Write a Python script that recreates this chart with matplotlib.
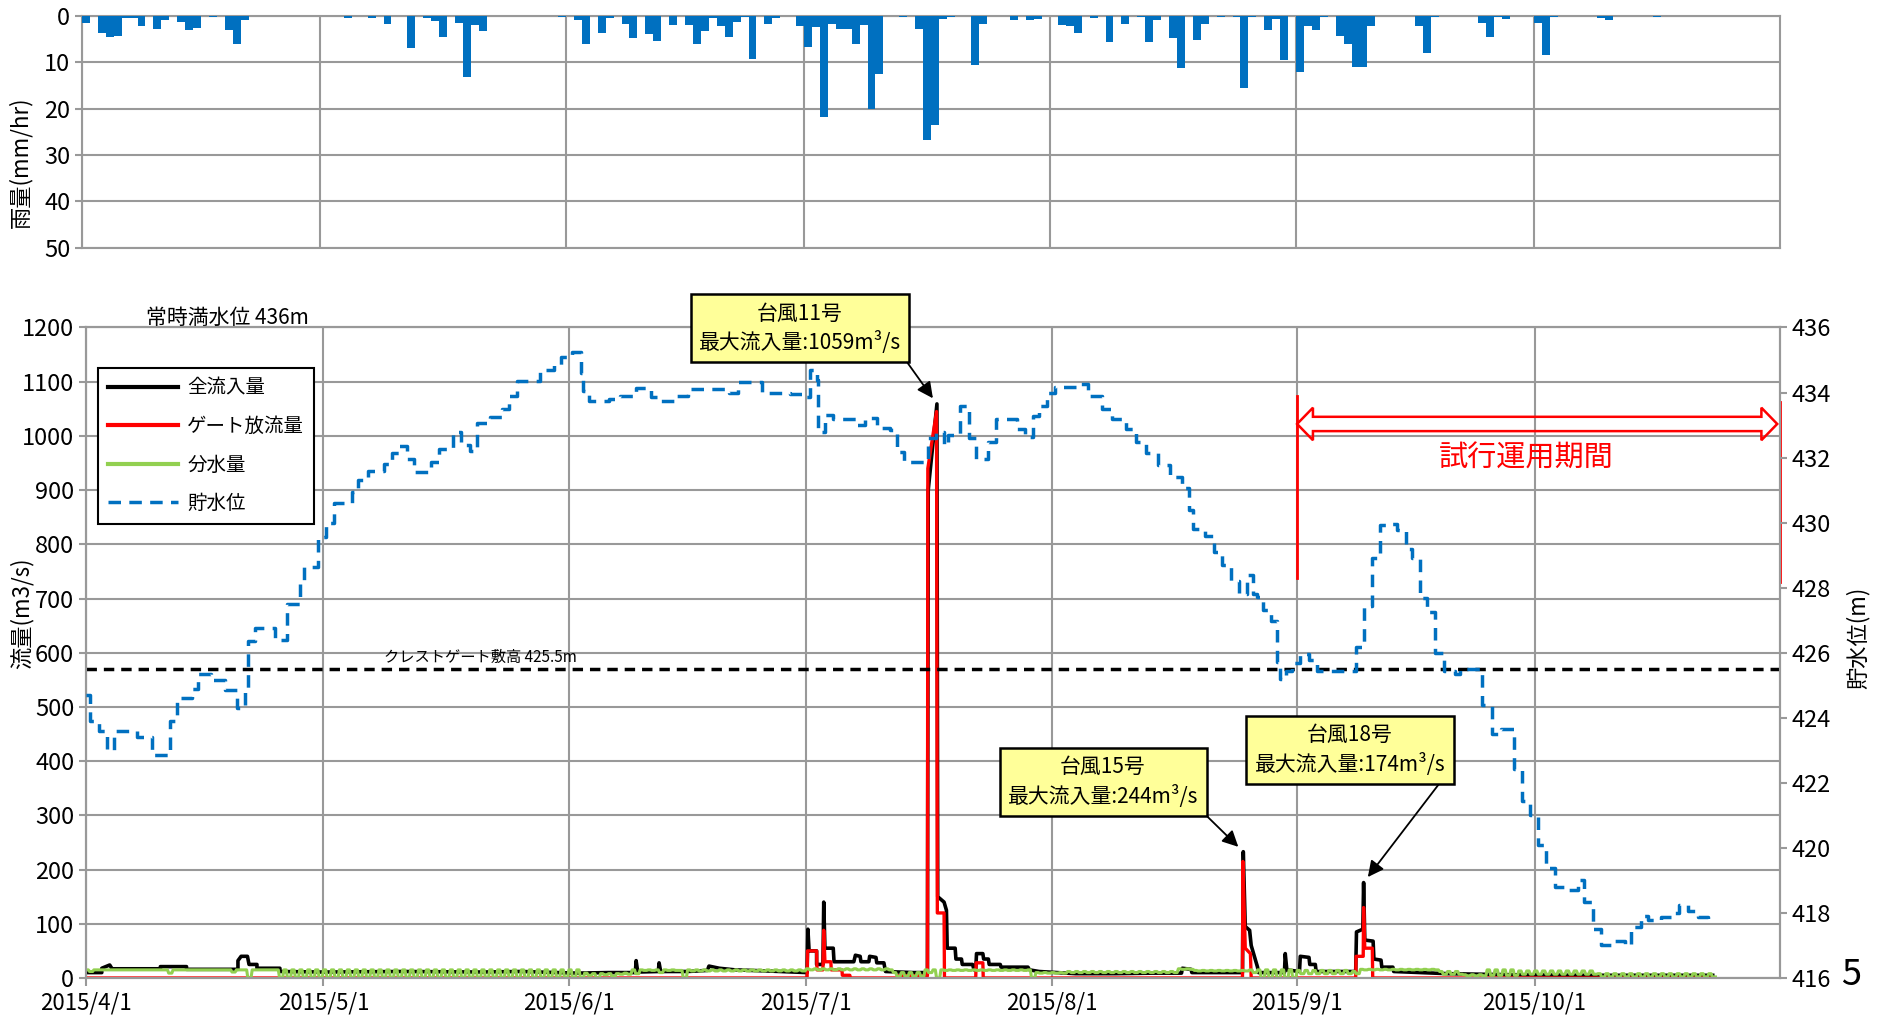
import datetime as dt
import numpy as np
import matplotlib
matplotlib.use("Agg")
import matplotlib.pyplot as plt
import matplotlib.dates as mdates
import matplotlib.patches as mpatches
import matplotlib.transforms as mtransforms
from matplotlib.lines import Line2D

plt.rcParams['font.family'] = ['Liberation Sans Narrow', 'Noto Sans CJK JP', 'DejaVu Sans']

# ---- data (day offsets from 2015/4/1) ----
rain_day = [0, 2, 3, 4, 5, 6, 7, 9, 10, 12, 13, 14, 16, 18, 19, 20, 33, 36, 38, 41,
            43, 44, 45, 47, 48, 49, 50, 60, 62, 63, 65, 66, 68, 69, 71, 72, 74, 76, 77, 78,
            79, 80, 81, 82, 83, 84, 86, 87, 90, 91, 92, 93, 94, 95, 96, 97, 98, 99, 100, 103,
            105, 106, 107, 108, 109, 112, 113, 117, 119, 120, 123, 124, 125, 127, 129, 131, 133, 134, 135, 137,
            138, 140, 141, 143, 145, 146, 147, 149, 150, 151, 153, 154, 155, 156, 158, 159, 160, 161, 162, 168,
            169, 170, 176, 177, 178, 179, 183, 184, 185, 191, 192, 198]
rain_mm = [1.5, 3.7, 4.5, 4.3, 0.5, 0.5, 2.3, 2.8, 1.0, 1.4, 3.0, 2.7, 0.3, 3.0, 6.2, 1.0, 0.5, 0.5, 1.9, 7.0,
           0.5, 1.2, 4.5, 1.6, 13.2, 2.0, 3.2, 0.3, 1.0, 6.1, 3.7, 0.5, 1.7, 4.8, 4.0, 5.5, 2.0, 2.0, 6.1, 3.2,
           0.6, 2.3, 4.6, 1.4, 0.4, 9.3, 1.8, 0.5, 2.2, 6.8, 2.4, 21.8, 1.8, 2.8, 2.8, 6.1, 2.1, 20.1, 12.6, 0.3,
           2.9, 26.7, 23.5, 0.8, 0.3, 10.6, 1.9, 1.0, 0.9, 0.8, 2.1, 2.3, 3.7, 0.6, 5.6, 1.9, 0.3, 5.6, 0.9, 4.8,
           11.3, 5.3, 1.9, 0.4, 0.4, 15.6, 0.4, 3.1, 0.8, 9.6, 12.1, 2.3, 3.1, 0.3, 4.3, 6.0, 11.0, 11.0, 2.3, 2.2,
           8.0, 0.4, 1.6, 4.5, 0.3, 0.7, 1.6, 8.5, 0.4, 0.6, 1.0, 0.2]

# total inflow (m3/s)
inflow_day = [0, 2, 2, 3, 3.3, 9.4, 9.4, 12.7, 12.7,
              19.2, 19.2, 19.6, 20.4, 20.6, 21.6, 21.6, 24.5, 24.5,
              30, 40, 50, 55, 62, 66,
              69.4, 69.5, 69.7, 72.3, 72.4, 72.6,
              76, 78.5, 78.7, 80, 82, 86,
              91.1, 91.2, 91.35, 92.3, 92.3, 93.1, 93.2, 93.35, 94.4, 94.5,
              97, 97.2, 97.8, 97.9, 98.9, 99, 99.8, 99.9, 100.8, 101, 104.5,
              106.3, 106.4, 107.5, 107.6, 108.4, 108.7, 108.8, 109.8, 109.9, 110.6, 110.7, 112, 112.2,
              112.4, 112.5, 113.3, 113.4, 114, 114.1, 115.5, 115.6, 119, 119.2, 120.4,
              125, 130, 135, 138.4, 138.5, 139.6, 139.7,
              146.1, 146.2, 146.45, 147.0, 147.2, 148.0, 148.1,
              151.4, 151.5, 151.7, 153.3, 153.4, 154.5, 154.6, 155.3, 155.4,
              160.4, 160.5, 161.3, 161.4, 161.55, 162.6, 162.7, 163.6, 163.7, 165.1, 165.2,
              172, 180, 190, 205.5]
inflow_cms = [10, 10, 18, 24, 17, 17, 21, 21, 16,
              16, 32, 40, 40, 25, 25, 18, 18, 12,
              11, 12, 11, 12, 9, 10,
              10, 32, 11, 12, 28, 12,
              12, 14, 22, 18, 15, 13,
              10, 90, 50, 50, 25, 25, 140, 55, 55, 30,
              30, 42, 40, 30, 30, 40, 38, 28, 28, 12, 10,
              10, 900, 1059, 150, 140, 125, 55, 55, 35, 35, 25, 25, 15,
              15, 45, 45, 35, 35, 25, 25, 20, 20, 15, 12,
              8, 8, 9, 9, 18, 16, 10,
              10, 233, 95, 88, 60, 20, 10,
              10, 45, 15, 12, 40, 38, 25, 25, 12,
              12, 85, 90, 176, 70, 68, 35, 33, 20, 20, 12,
              8, 6, 5, 5]

# gate discharge (m3/s)
gate_day = [0, 91.1, 91.15, 92.3, 92.35, 93.1, 93.2, 93.35, 94.1, 94.15,
            95.5, 95.55, 96.5, 96.55, 102.5, 102.55, 106.3, 106.35, 107.45, 107.55,
            108.4, 108.45, 112.4, 112.45, 113.3, 113.35, 146.1, 146.15, 146.45, 147.1,
            147.2, 160.4, 160.45, 161.35, 161.4, 161.55, 162.5, 162.55, 205.5]
gate_cms = [0, 0, 50, 50, 15, 15, 88, 30, 30, 15,
            15, 5, 5, 0, 0, 4, 4, 940, 1045, 120,
            120, 0, 0, 28, 28, 0, 0, 215, 55, 45,
            0, 0, 40, 40, 130, 55, 55, 0, 0]

# diversion: daily high / low (m3/s), days 0..205
div_hi = [15, 15, 15, 15, 15, 15, 15, 15, 15, 15,
          15, 15, 15, 15, 15, 15, 15, 15, 15, 15,
          15, 15, 15, 15, 15, 15, 15, 15, 15, 15,
          15, 15, 15, 15, 15, 15, 15, 15, 15, 15,
          15, 15, 15, 15, 15, 15, 15, 15, 15, 15,
          15, 15, 15, 15, 15, 15, 15, 15, 15, 15,
          15, 15, 15, 9, 8, 8, 8, 8, 9, 15,
          15, 15, 15, 15, 15, 14, 15, 15, 15, 15,
          15, 15, 15, 15, 15, 15, 15, 15, 15, 15,
          15, 17, 17, 17, 17, 17, 17, 17, 17, 17,
          17, 17, 10, 10, 10, 10, 15, 15, 15, 15,
          15, 15, 15, 15, 15, 15, 15, 15, 15, 15,
          10, 10, 10, 10, 12, 12, 12, 12, 12, 12,
          12, 12, 12, 12, 12, 12, 12, 12, 17, 17,
          14, 14, 14, 14, 14, 14, 14, 15, 15, 15,
          15, 15, 15, 14, 14, 14, 14, 14, 14, 14,
          12, 16, 16, 16, 16, 16, 16, 16, 16, 16,
          16, 12, 12, 12, 6, 6, 6, 15, 15, 15,
          15, 13, 13, 13, 13, 13, 13, 13, 13, 13,
          13, 8, 8, 8, 8, 8, 8, 8, 8, 8,
          8, 8, 8, 8, 8, 8]
div_lo = [12, 15, 15, 15, 15, 15, 15, 15, 15, 15,
          9, 15, 15, 15, 15, 15, 15, 15, 11, 15,
          0, 15, 15, 15, 1, 1, 1, 1, 1, 1,
          1, 1, 1, 1, 1, 1, 1, 1, 1, 1,
          1, 1, 1, 1, 1, 1, 1, 1, 1, 1,
          1, 1, 1, 1, 1, 1, 1, 1, 1, 1,
          1, 1, 1, 5, 0, 6, 3, 7, 7, 8,
          14, 14, 10, 14, 14, 0, 13, 13, 13, 13,
          13, 13, 13, 13, 13, 13, 13, 13, 13, 13,
          13, 15, 15, 15, 15, 15, 15, 15, 15, 15,
          15, 15, 3, 3, 3, 3, 10, 0, 14, 14,
          14, 14, 14, 14, 14, 14, 14, 14, 14, 0,
          9, 9, 9, 9, 10, 10, 10, 10, 10, 10,
          10, 10, 10, 10, 10, 10, 10, 10, 16, 16,
          13, 13, 13, 13, 13, 13, 13, 10, 0, 0,
          0, 0, 0, 8, 8, 8, 8, 8, 8, 8,
          8, 15, 15, 15, 15, 15, 15, 15, 15, 15,
          15, 7, 7, 7, 4, 4, 4, 5, 5, 5,
          5, 7, 7, 7, 7, 7, 7, 7, 7, 7,
          7, 2, 2, 2, 2, 2, 2, 2, 2, 2,
          2, 2, 2, 2, 2, 2]

# reservoir level (m), step series
level_day = [0, 0.45, 1.6, 2.6, 3.5, 6.4, 8.35, 10.6, 11.5, 13.35,
             14.1, 15.85, 17.6, 19.1, 20.1, 20.5, 21.35, 23.85, 25.35, 27.1,
             27.6, 29.35, 30.35, 31.35, 33.6, 34.35, 35.6, 37.6, 38.6, 39.6,
             40.6, 41.5, 43.6, 44.6, 46.35, 47.35, 48.5, 49.35, 51.1, 52.5,
             53.5, 54.5, 57.35, 59.1, 60.0, 61.35, 62.5, 62.85, 63.5, 66.1,
             67.5, 69.5, 71.35, 72.6, 74.35, 76.1, 81.2, 82.4, 85.4, 88.9,
             90.5, 91.5, 92.4, 92.5, 93.4, 94.4, 95.4, 97.4, 98.4, 99.9,
             101.6, 102.4, 103.4, 106.4, 107.4, 108.4, 108.9, 110.4, 111.6, 112.4,
             113.9, 114.9, 117.6, 118.6, 119.65, 120.4, 121.4, 122.4, 125.65, 126.6,
             128.4, 129.6, 131.4, 132.6, 133.9, 135.4, 136.9, 138.4, 139.4, 139.9,
             141.4, 142.5, 143.5, 144.6, 145.65, 146.65, 147.4, 147.9, 148.65, 149.65,
             150.4, 150.5, 150.9, 151.65, 152.4, 153.4, 154.5, 155.5, 160.4, 161.4,
             162.5, 163.5, 164.6, 165.6, 166.7, 167.5, 168.5, 169.4, 170.4, 171.5,
             173.0, 173.6, 176.4, 177.6, 178.8, 180.4, 181.4, 182.4, 183.4, 184.5,
             185.6, 186.8, 188.5, 189.3, 190.4, 191.4, 192.7, 194.4, 195.2, 196.5,
             197.3, 199.0, 200.3, 201.3, 202.4, 203.6, 204.9, 205.5]
level_m = [424.7, 423.9, 423.6, 423.0, 423.6, 423.4, 422.85, 423.9, 424.6, 424.9,
           425.35, 425.15, 424.85, 424.3, 424.85, 426.35, 426.75, 426.4, 427.5, 428.2,
           428.65, 429.55, 430.0, 430.6, 430.95, 431.3, 431.6, 431.8, 432.15, 432.35,
           431.95, 431.55, 431.85, 432.25, 432.8, 432.4, 432.2, 433.05, 433.25, 433.5,
           433.9, 434.35, 434.7, 434.85, 435.1, 435.25, 434.6, 434.05, 433.75, 433.8,
           433.9, 434.15, 433.85, 433.75, 433.9, 434.1, 434.0, 434.33, 434.0, 433.95,
           433.85, 434.7, 434.4, 432.8, 433.3, 433.2, 433.18, 433.0, 433.23, 432.9,
           432.85, 432.17, 431.87, 432.6, 432.8, 432.4, 432.7, 433.6, 432.6, 431.97,
           432.47, 433.18, 432.88, 432.63, 433.28, 433.6, 434.0, 434.17, 434.27, 433.9,
           433.5, 433.18, 432.88, 432.47, 432.15, 431.77, 431.4, 431.05, 430.4, 429.8,
           429.6, 429.1, 428.7, 428.2, 427.8, 428.4, 427.8, 427.7, 427.3, 426.97,
           426.5, 425.73, 425.18, 425.43, 425.7, 425.97, 425.77, 425.45, 426.17, 427.45,
           428.9, 429.92, 429.97, 429.77, 429.2, 428.9, 427.67, 427.25, 426.0, 425.45,
           425.35, 425.5, 424.38, 423.5, 423.67, 422.43, 421.45, 421.0, 420.08, 419.37,
           418.8, 418.7, 419.0, 418.33, 417.5, 417.0, 417.15, 417.0, 417.57, 417.92,
           417.77, 417.87, 418.0, 418.23, 418.07, 417.87, 417.77, 417.77]

crest_level = 425.5
full_level = 436
trial_days = (153, 214)   # 2015/9/1 .. 2015/11/1

typhoon_names = ['台風11号', '台風15号', '台風18号']
typhoon_peak_text = ['1059', '244', '174']
typhoon_window = [(105, 109), (145, 148), (159, 163)]

legend_labels = ['全流入量', 'ゲート放流量', '分水量', '貯水位']

# ---- style ----
BLACK, RED, GREEN, BLUE = '#000000', '#FF0000', '#92D050', '#0070C0'
GRID = '#999999'

t0 = mdates.date2num(dt.datetime(2015, 4, 1))
t_end = mdates.date2num(dt.datetime(2015, 11, 1))
months = [dt.datetime(2015, m, 1) for m in range(4, 11)]
month_num = [mdates.date2num(m) for m in months]
month_lbl = ['{}/{}/{}'.format(m.year, m.month, m.day) for m in months]


def pulse_series(hi, lo):
    # within each day: high for the first half, low for the second
    t, v = [], []
    for d, (h, l) in enumerate(zip(hi, lo)):
        t += [d, d + 0.3, d + 0.45, d + 0.85]
        v += [h, h, l, l]
    return np.array(t), np.array(v)


fig = plt.figure(figsize=(18.81, 10.15), dpi=100)

# ---- rainfall panel ----
ax_r = fig.add_axes([0.0436, 0.7557, 0.9027, 0.2289])
ax_r.bar(t0 + np.array(rain_day), rain_mm, width=1.0, align='edge', color=BLUE, zorder=3)
ax_r.set_xlim(t0, t_end)
ax_r.set_ylim(50, 0)
ax_r.set_yticks([0, 10, 20, 30, 40, 50])
ax_r.set_xticks(month_num)
ax_r.tick_params(axis='x', labelbottom=False, length=0)
ax_r.tick_params(axis='y', labelsize=17, length=5, color=GRID, width=1.5)
ax_r.grid(True, color=GRID, lw=1.5)
ax_r.set_axisbelow(True)
for s in ax_r.spines.values():
    s.set_color(GRID)
    s.set_linewidth(1.5)
ax_r.set_ylabel('雨量(mm/hr)', fontsize=16)
ax_r.yaxis.set_label_coords(-0.029, 0.37)

# ---- flow / level panel ----
ax = fig.add_axes([0.0457, 0.03645, 0.9006, 0.6409])
ax2 = ax.twinx()

ax.plot(t0 + np.array(inflow_day), inflow_cms, color=BLACK, lw=2.6, zorder=3)
ax.plot(t0 + np.array(gate_day), gate_cms, color=RED, lw=2.4, zorder=4)
dt_, dv_ = pulse_series(div_hi, div_lo)
ax.plot(t0 + dt_, dv_, color=GREEN, lw=2.2, zorder=5)

ax.set_xlim(t0, t_end)
ax.set_ylim(0, 1200)
ax.set_yticks(range(0, 1201, 100))
ax.set_xticks(month_num)
ax.set_xticklabels(month_lbl)
ax.tick_params(axis='x', labelsize=16, length=6, color=GRID, width=1.5, pad=4)
ax.tick_params(axis='y', labelsize=17, length=5, color=GRID, width=1.5)
ax.grid(True, color=GRID, lw=1.5)
ax.set_axisbelow(True)
ax.set_ylabel('流量(m3/s)', fontsize=16)
ax.yaxis.set_label_coords(-0.031, 0.56)

ax2.plot(t0 + np.array(level_day), level_m, color=BLUE, lw=2.5,
         drawstyle='steps-post', linestyle=(0, (3.6, 2.4)), zorder=3)
ax2.axhline(crest_level, color=BLACK, lw=2.5, linestyle=(0, (3, 2)), zorder=2)
ax2.set_ylim(416, 436)
ax2.set_yticks(range(416, 437, 2))
ax2.tick_params(axis='y', labelsize=17, length=5, color=GRID, width=1.5)
ax2.set_ylabel('貯水位(m)', fontsize=16)
ax2.yaxis.set_label_coords(1.039, 0.523)
for a in (ax, ax2):
    for s in a.spines.values():
        s.set_color(GRID)
        s.set_linewidth(1.5)

blend = mtransforms.blended_transform_factory(ax.transAxes, ax2.transData)
ax2.text(0.176, crest_level + 0.08, 'クレストゲート敷高 {}m'.format(crest_level), transform=blend,
         fontsize=11, va='bottom', ha='left')
ax.text(0.0354, 1.0146, '常時満水位 {}m'.format(full_level), transform=ax.transAxes,
        fontsize=15, va='center', ha='left')

# trial operation period
ts, te = t0 + trial_days[0], t0 + trial_days[1]
ax.axvline(ts, ymin=0.615, ymax=0.895, color=RED, lw=2, zorder=6)
ax.axvline(te, ymin=0.609, ymax=0.886, color=RED, lw=2, zorder=6, clip_on=False)
bt = mtransforms.blended_transform_factory(ax.transData, ax.transAxes)
yc, S, H, h = 0.8517, 0.0110, 0.0250, 2.0
x0, x1 = ts, te - 0.35
arrow_pts = [(x0, yc), (x0 + h, yc + H), (x0 + h, yc + S), (x1 - h, yc + S), (x1 - h, yc + H),
             (x1, yc), (x1 - h, yc - H), (x1 - h, yc - S), (x0 + h, yc - S), (x0 + h, yc - H)]
ax.add_patch(mpatches.Polygon(arrow_pts, closed=True, transform=bt, fill=False,
                              edgecolor=RED, lw=1.8, zorder=6, clip_on=False))
ax.text(0.850, 0.798, '試行運用期間', transform=ax.transAxes, color=RED,
        fontsize=21, ha='center', va='center')

# typhoon call-outs
box_pos = [(0.4215, 0.999), (0.6004, 0.3013), (0.7462, 0.3505)]
inf_t = np.array(inflow_day)
inf_v = np.array(inflow_cms)
for name, pk, (w0, w1), pos in zip(typhoon_names, typhoon_peak_text, typhoon_window, box_pos):
    m = (inf_t >= w0) & (inf_t <= w1)
    i = np.argmax(np.where(m, inf_v, -1))
    ax2.annotate('{}\n最大流入量:{}m³/s'.format(name, pk),
                 xy=(t0 + inf_t[i], inf_v[i]), xycoords=ax.transData,
                 xytext=pos, textcoords=ax.transAxes,
                 ha='center', va='center', multialignment='center',
                 fontsize=15, linespacing=1.35, zorder=10,
                 bbox=dict(boxstyle='square,pad=0.4', fc='#FFFF99', ec='k', lw=1.8),
                 arrowprops=dict(arrowstyle='-|>', color='k', lw=1.3, mutation_scale=24,
                                 relpos=(1, 0), shrinkA=0, shrinkB=5))

handles = [Line2D([], [], color=BLACK, lw=3),
           Line2D([], [], color=RED, lw=3),
           Line2D([], [], color=GREEN, lw=3),
           Line2D([], [], color=BLUE, lw=2.5, linestyle=(0, (3.6, 2.4)))]
leg = ax2.legend(handles, legend_labels, loc='upper left', bbox_to_anchor=(0.007, 0.938),
                 fontsize=14, frameon=True, fancybox=False, edgecolor='k', framealpha=1,
                 handlelength=3.6, handletextpad=0.5, labelspacing=0.9, borderpad=0.5,
                 borderaxespad=0)
leg.get_frame().set_linewidth(1.5)
leg.set_zorder(20)

fig.text(0.984, 0.039, '5', fontsize=26, ha='center', va='center')

fig.savefig('out.png', dpi=100)
